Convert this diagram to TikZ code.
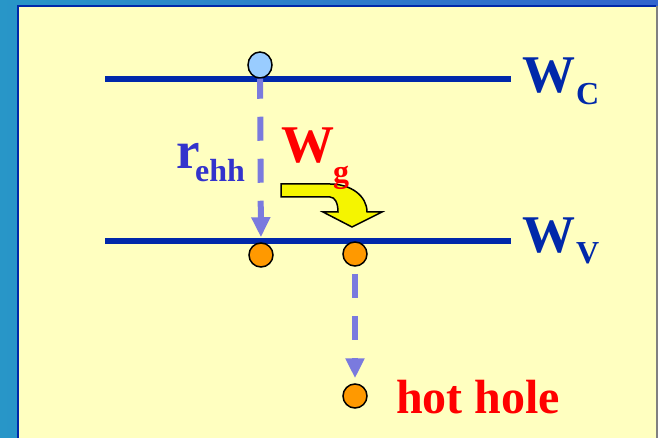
\documentclass[tikz,border=0pt]{standalone}
\usepackage{fontspec}
\setmainfont{Liberation Serif}
\usetikzlibrary{arrows.meta,shapes.geometric}
\definecolor{bgleft}{RGB}{40,150,200}
\definecolor{bgright}{RGB}{50,100,205}
\definecolor{panel}{RGB}{255,255,192}
\definecolor{levelblue}{RGB}{0,40,170}
\definecolor{dashblue}{RGB}{122,122,222}
\definecolor{textblue}{RGB}{51,51,204}
\definecolor{elecblue}{RGB}{153,204,255}
\definecolor{holeorange}{RGB}{255,153,0}
\definecolor{arrowyellow}{RGB}{245,245,0}
\tikzset{
  level/.style={draw=levelblue, line width=6pt},
  electron/.style={ellipse, draw=black, line width=1.5pt, fill=elecblue, minimum width=24pt, minimum height=26pt, inner sep=0pt},
  hole/.style={circle, draw=black, line width=1.5pt, fill=holeorange, minimum size=24pt, inner sep=0pt},
  dasharrow/.style={draw=dashblue, line width=6pt, dash pattern=on 24pt off 18pt, -{Triangle[length=20pt,width=18pt]}},
  bigtxt/.style={inner sep=0pt, anchor=base west, font=\fontsize{53}{58}\selectfont\bfseries},
  subtxt/.style={inner sep=0pt, anchor=base west, font=\fontsize{32}{36}\selectfont\bfseries},
}
\begin{document}
\begin{tikzpicture}[x=1pt,y=-1pt]
\useasboundingbox (0,0) rectangle (658,438);
% background
\fill[left color=bgleft, right color=bgright] (0,0) rectangle (658,438);
\fill[panel] (18,6) rectangle (656,438);
\draw[levelblue, line width=2pt] (18,440) -- (18,6) -- (656,6);
\draw[gray, line width=2pt] (657,6) -- (657,438);
% energy levels
\coordinate (c1) at (105,79);
\coordinate (c2) at (511,79);
\coordinate (v1) at (105,241.5);
\coordinate (v2) at (511,241.5);
\draw[level] (c1) -- (c2);
\draw[level] (v1) -- (v2);
% particles
\node[electron] (e1) at (260,65) {};
\node[hole] (h1) at (261,255) {};
\node[hole] (h2) at (355,254) {};
\node[hole] (h3) at (355,396) {};
% dashed arrows
\draw[dasharrow, dash phase=4pt, shorten >=5pt] (e1) -- (h1);
\draw[dasharrow, dash phase=35pt, shorten >=5pt] (h2) -- (h3);
% yellow curved arrow
\filldraw[fill=arrowyellow, draw=black, line width=1.5pt, line join=miter]
  (281,184) -- (330,184) .. controls (351,184) and (367,196) .. (367,212)
  -- (382,212) -- (352,227) -- (323,212) -- (338,212)
  .. controls (338,203) and (335,197) .. (330,197) -- (281,197) -- cycle;
% labels
\node[bigtxt, text=levelblue] (wc) at (522,93) {W};
\node[subtxt, text=levelblue] (wcs) at (576,105) {C};
\node[bigtxt, text=levelblue] (wv) at (522,252) {W};
\node[subtxt, text=levelblue] (wvs) at (576,263) {V};
\node[bigtxt, text=textblue] (r) at (176,169) {r};
\node[subtxt, text=textblue] (rs) at (195,182) {ehh};
\node[bigtxt, text=red] (wg) at (281,163) {W};
\node[subtxt, text=red] (wgs) at (333,183) {g};
\node[inner sep=0pt, anchor=base west, font=\fontsize{48}{52}\selectfont\bfseries, text=red] (hh) at (396,413) {hot hole};
\end{tikzpicture}
\end{document}
